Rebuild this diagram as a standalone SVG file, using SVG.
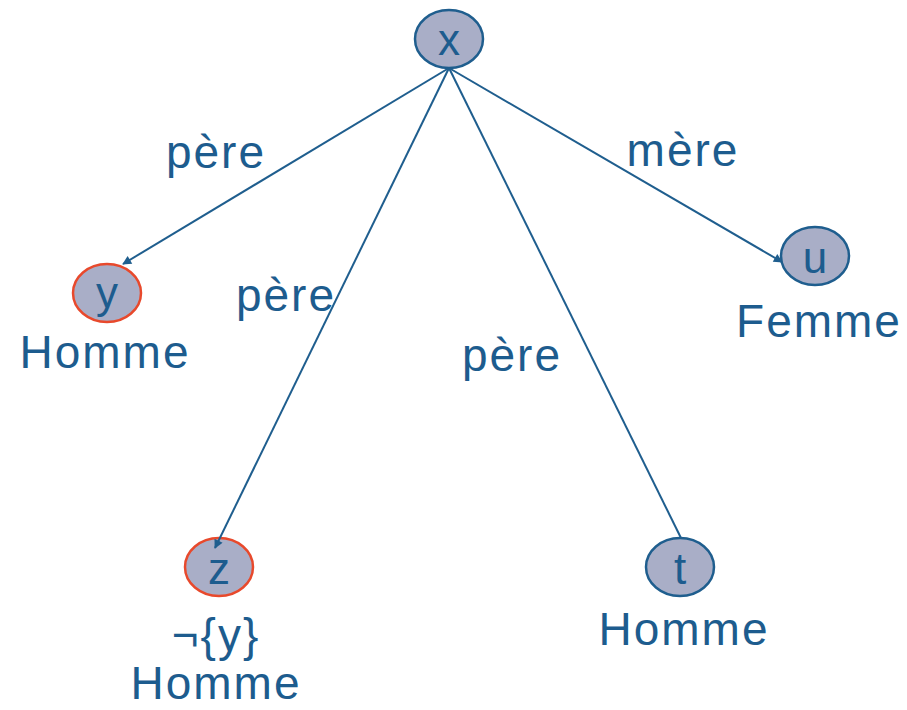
<svg xmlns="http://www.w3.org/2000/svg" width="907" height="710" viewBox="0 0 907 710">
  <defs>
    <marker id="arrow" viewBox="0 0 10 10" refX="9" refY="5" markerWidth="11" markerHeight="9" orient="auto" markerUnits="userSpaceOnUse">
      <path d="M0,0 L10,5 L0,10 Z" fill="#1F5E8E"/>
    </marker>
    <style>
      .node { fill: #A9AEC7; stroke: #1F5E8E; stroke-width: 2.5; }
      .marked { stroke: #E8492C; }
      .edge { stroke: #1F5E8E; stroke-width: 2; fill: none; }
      .lbl { font-family: "Liberation Sans", Arial, sans-serif; font-size: 46px; fill: #1D5C8E; text-anchor: middle; letter-spacing: 2px; }
      .var { font-family: "Liberation Sans", Arial, sans-serif; font-size: 44px; fill: #1D5C8E; text-anchor: middle; }
    </style>
  </defs>

  <g id="node-x">
    <ellipse class="node" cx="449" cy="39" rx="34" ry="29"/>
    <text class="var" x="449" y="55">x</text>
  </g>

  <g id="node-y">
    <ellipse class="node marked" cx="107" cy="293" rx="34" ry="29"/>
    <text class="var" x="107" y="308">y</text>
    <text class="lbl" x="105" y="368">Homme</text>
  </g>

  <g id="node-z">
    <ellipse class="node marked" cx="219" cy="567" rx="34" ry="29"/>
    <text class="var" x="219" y="584">z</text>
    <text class="lbl" x="216" y="651">¬{y}</text>
    <text class="lbl" x="216" y="699">Homme</text>
  </g>

  <g id="node-t">
    <ellipse class="node" cx="680" cy="567" rx="34" ry="29"/>
    <text class="var" x="680" y="584">t</text>
    <text class="lbl" x="684" y="645">Homme</text>
  </g>

  <g id="node-u">
    <ellipse class="node" cx="815" cy="256" rx="34" ry="29"/>
    <text class="var" x="815" y="273">u</text>
    <text class="lbl" x="819" y="337">Femme</text>
  </g>

  <g id="edges">
    <line class="edge" x1="449" y1="68" x2="123" y2="264" marker-end="url(#arrow)"/>
    <line class="edge" x1="449" y1="68" x2="215" y2="548" marker-end="url(#arrow)"/>
    <line class="edge" x1="449" y1="68" x2="681" y2="538"/>
    <line class="edge" x1="449" y1="68" x2="782" y2="262" marker-end="url(#arrow)"/>
    <text class="lbl" x="216" y="168">père</text>
    <text class="lbl" x="286" y="311">père</text>
    <text class="lbl" x="512" y="371">père</text>
    <text class="lbl" x="683" y="166">mère</text>
  </g>
</svg>
